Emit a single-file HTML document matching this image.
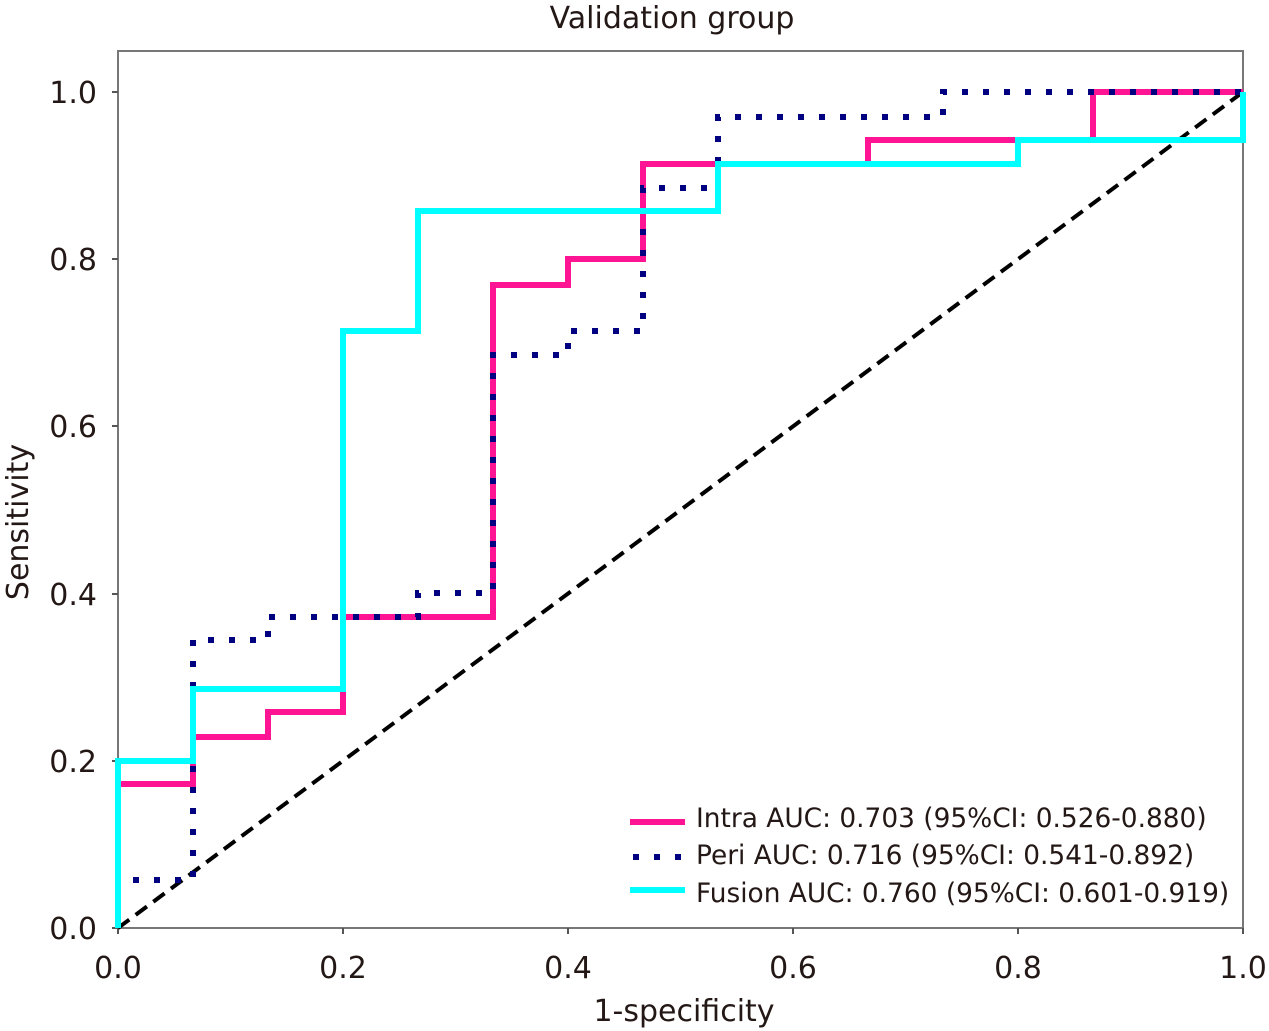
<!DOCTYPE html>
<html><head><style>body{margin:0;background:#fff}svg{display:block}</style></head><body>
<svg width="1269" height="1031" xmlns="http://www.w3.org/2000/svg" font-family="'DejaVu Sans','Liberation Sans',sans-serif" fill="#231815">
<rect x="118" y="51" width="1125" height="877" fill="none" stroke="#777" stroke-width="2"/>
<g stroke="#555" stroke-width="2">
<line x1="112" y1="928" x2="118" y2="928"/><line x1="112" y1="761" x2="118" y2="761"/><line x1="112" y1="594" x2="118" y2="594"/><line x1="112" y1="426" x2="118" y2="426"/><line x1="112" y1="259" x2="118" y2="259"/><line x1="112" y1="92" x2="118" y2="92"/>
<line x1="118" y1="928" x2="118" y2="934"/><line x1="343" y1="928" x2="343" y2="934"/><line x1="568" y1="928" x2="568" y2="934"/><line x1="793" y1="928" x2="793" y2="934"/><line x1="1018" y1="928" x2="1018" y2="934"/><line x1="1243" y1="928" x2="1243" y2="934"/>
</g>
<g font-size="30" text-anchor="end">
<text x="97" y="939">0.0</text><text x="97" y="772">0.2</text><text x="97" y="605">0.4</text><text x="97" y="437">0.6</text><text x="97" y="270">0.8</text><text x="97" y="103">1.0</text>
</g>
<g font-size="30" text-anchor="middle">
<text x="118" y="978">0.0</text><text x="343" y="978">0.2</text><text x="568" y="978">0.4</text><text x="793" y="978">0.6</text><text x="1018" y="978">0.8</text><text x="1243" y="978">1.0</text>
<text x="684" y="1021">1-specificity</text>
<text x="672" y="28">Validation group</text>
<text transform="translate(28,522) rotate(-90)">Sensitivity</text>
</g>
<line x1="118" y1="928" x2="1243" y2="92" stroke="#000" stroke-width="4" stroke-dasharray="14,8"/>
<g fill="none" stroke-width="6">
<polyline stroke="#FF1493" points="118,928 118,784 193,784 193,737 268,737 268,712 343,712 343,617 493,617 493,285 568,285 568,259 643,259 643,164 868,164 868,140 1093,140 1093,92 1243,92"/>
<polyline stroke="#000080" stroke-dasharray="6,15" points="118,928 118,880 193,880 193,640 268,640 268,617 418,617 418,593 493,593 493,355 568,355 568,331 643,331 643,188 718,188 718,117 943,117 943,92 1243,92"/>
<polyline stroke="#00FFFF" points="118,928 118,761 193,761 193,689 343,689 343,331 418,331 418,211 718,211 718,164 1018,164 1018,140 1243,140 1243,92"/>
<line x1="630" y1="822" x2="685" y2="822" stroke="#FF1493"/>
<line x1="633" y1="857" x2="685" y2="857" stroke="#000080" stroke-dasharray="6,15"/>
<line x1="630" y1="890" x2="685" y2="890" stroke="#00FFFF"/>
</g>
<g font-size="26.4">
<text x="696" y="827">Intra AUC: 0.703 (95%CI: 0.526-0.880)</text>
<text x="696" y="864">Peri AUC: 0.716 (95%CI: 0.541-0.892)</text>
<text x="696" y="902">Fusion AUC: 0.760 (95%CI: 0.601-0.919)</text>
</g>
</svg>
</body></html>
